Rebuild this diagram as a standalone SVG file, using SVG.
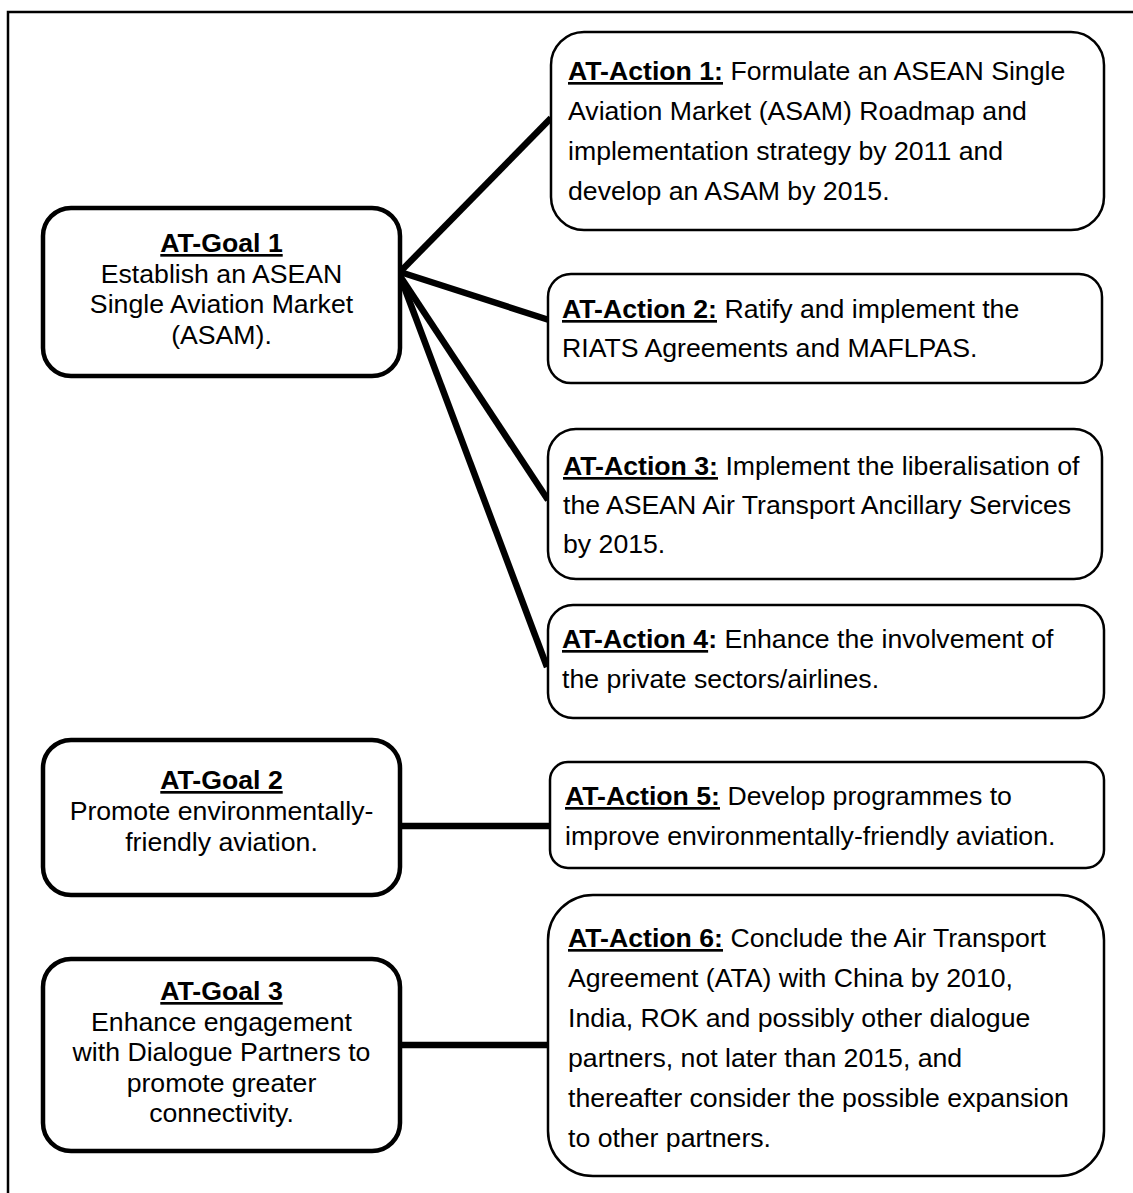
<svg xmlns="http://www.w3.org/2000/svg" width="1133" height="1193" viewBox="0 0 1133 1193">
<style>
text{font-family:"Liberation Sans",Arial,sans-serif;font-size:26.67px;fill:#000}
.goal{fill:#fff;stroke:#000;stroke-width:4.5}
.act{fill:#fff;stroke:#000;stroke-width:2.5}
.c{text-anchor:middle}
.b{font-weight:bold}
.u{font-weight:bold;text-decoration:underline}
.conn line{stroke:#000;stroke-width:6.5;stroke-linecap:butt}
</style>
<rect width="1133" height="1193" fill="#fff"/>
<path d="M8,1200 V12 H1140" fill="none" stroke="#000" stroke-width="2.5"/>
<g id="connectors" class="conn">
<line x1="400" y1="272" x2="551" y2="118"/>
<line x1="400" y1="272" x2="549" y2="320"/>
<line x1="400" y1="276" x2="548" y2="500"/>
<line x1="400" y1="276" x2="547" y2="667"/>
<line x1="400" y1="826" x2="551" y2="826"/>
<line x1="400" y1="1045" x2="549" y2="1045"/>
</g>
<g id="goal1">
<rect class="goal" x="43" y="208" width="357" height="168" rx="28"/>
<text class="c" x="221.5" y="252"><tspan class="u">AT-Goal 1</tspan></text>
<text class="c" x="221.5" y="282.7">Establish an ASEAN</text>
<text class="c" x="221.5" y="313.4">Single Aviation Market</text>
<text class="c" x="221.5" y="344">(ASAM).</text>
</g>
<g id="goal2">
<rect class="goal" x="43" y="740" width="357" height="155" rx="28"/>
<text class="c" x="221.5" y="789"><tspan class="u">AT-Goal 2</tspan></text>
<text class="c" x="221.5" y="820">Promote environmentally-</text>
<text class="c" x="221.5" y="851">friendly aviation.</text>
</g>
<g id="goal3">
<rect class="goal" x="43" y="959" width="357" height="192" rx="28"/>
<text class="c" x="221.5" y="1000"><tspan class="u">AT-Goal 3</tspan></text>
<text class="c" x="221.5" y="1030.5">Enhance engagement</text>
<text class="c" x="221.5" y="1061">with Dialogue Partners to</text>
<text class="c" x="221.5" y="1091.5">promote greater</text>
<text class="c" x="221.5" y="1122">connectivity.</text>
</g>
<g id="action1">
<rect class="act" x="551" y="32" width="553" height="198" rx="33"/>
<text x="568" y="80"><tspan class="u">AT-Action 1:</tspan> Formulate an ASEAN Single</text>
<text x="568" y="120">Aviation Market (ASAM) Roadmap and</text>
<text x="568" y="160">implementation strategy by 2011 and</text>
<text x="568" y="200">develop an ASAM by 2015.</text>
</g>
<g id="action2">
<rect class="act" x="548" y="274" width="554" height="109" rx="23"/>
<text x="562" y="318"><tspan class="u">AT-Action 2:</tspan> Ratify and implement the</text>
<text x="562" y="357">RIATS Agreements and MAFLPAS.</text>
</g>
<g id="action3">
<rect class="act" x="548" y="429" width="554" height="150" rx="28"/>
<text x="563" y="475"><tspan class="u">AT-Action 3:</tspan> Implement the liberalisation of</text>
<text x="563" y="514">the ASEAN Air Transport Ancillary Services</text>
<text x="563" y="553">by 2015.</text>
</g>
<g id="action4">
<rect class="act" x="548" y="605" width="556" height="113" rx="25"/>
<text x="562" y="648"><tspan class="u">AT-Action 4</tspan><tspan class="b">:</tspan> Enhance the involvement of</text>
<text x="562" y="688">the private sectors/airlines.</text>
</g>
<g id="action5">
<rect class="act" x="550" y="762" width="554" height="106" rx="18"/>
<text x="565" y="805"><tspan class="u">AT-Action 5:</tspan> Develop programmes to</text>
<text x="565" y="845">improve environmentally-friendly aviation.</text>
</g>
<g id="action6">
<rect class="act" x="548" y="895" width="556" height="281" rx="45"/>
<text x="568" y="947"><tspan class="u">AT-Action 6:</tspan> Conclude the Air Transport</text>
<text x="568" y="987">Agreement (ATA) with China by 2010,</text>
<text x="568" y="1027">India, ROK and possibly other dialogue</text>
<text x="568" y="1067">partners, not later than 2015, and</text>
<text x="568" y="1107">thereafter consider the possible expansion</text>
<text x="568" y="1147">to other partners.</text>
</g>
</svg>
